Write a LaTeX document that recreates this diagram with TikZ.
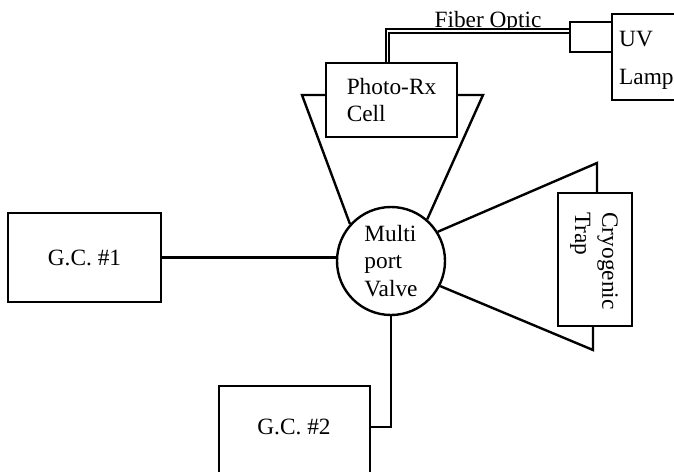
\documentclass[tikz,border=0pt]{standalone}
\usepackage{fontspec}
\setmainfont{Liberation Serif}
\begin{document}
\begin{tikzpicture}[x=0.75pt,y=-0.75pt, line width=1.8pt,
  font=\fontsize{17.5}{20.5}\selectfont,
  box/.style={draw, rectangle, inner sep=0pt},
  lbl/.style={inner sep=0pt, align=left}]
\clip (0,0) rectangle (674,471);
% nodes
\node[box, minimum width=153*0.75pt, minimum height=89*0.75pt] (gc1) at (84.5,257.5) {G.C. \#1};
\node[draw, circle, minimum size=108*0.75pt, inner sep=0pt, align=left] (valve) at (391,261) {Multi\\port\\Valve};
\node[box, minimum width=151*0.75pt, minimum height=120*0.75pt] (gc2) at (294.5,446) {};
\node[lbl] (gc2t) at (294,427) {G.C. \#2};
\node[box, minimum width=131*0.75pt, minimum height=74*0.75pt, align=left] (photo) at (391.5,100) {Photo-Rx\\Cell};
\node[box, minimum width=74*0.75pt, minimum height=133*0.75pt] (trap) at (595,259.5) {};
\node[lbl, rotate=-90] (trapt) at (594,261) {Cryogenic\\Trap};
\node[box, minimum width=42*0.75pt, minimum height=30*0.75pt] (fib) at (591,37) {};
\node[box, minimum width=100*0.75pt, minimum height=86*0.75pt] (uv) at (662,57) {};
\node[lbl, anchor=west, font=\fontsize{17.5}{28.5}\selectfont] (uvt) at (618,60) {UV\\Lamp};
\node[inner sep=0pt, anchor=base] (fo) at (488,27) {Fiber Optic};
% coordinates
\coordinate (fl) at (302,95);
\coordinate (fr) at (483,95);
\coordinate (tu) at (597,163);
\coordinate (tl) at (593,350);
% connectors
\draw (gc1.east) -- (gc1.east -| valve.west);
\draw (gc2.east |- gc2t) -| (valve.south);
\draw (valve.138) -- (fl) -- (fl -| photo.west);
\draw (valve.49) -- (fr) -- (fr -| photo.east);
\draw (valve.32) -- (tu) -- (tu |- trap.north);
\draw (valve.-27) -- (tl) -- (tl |- trap.south);
\draw[double, line width=1.4pt, double distance=1.4pt] ([xshift=-3pt]photo.north) |- ([yshift=4.5pt]fib.west);
\end{tikzpicture}
\end{document}
